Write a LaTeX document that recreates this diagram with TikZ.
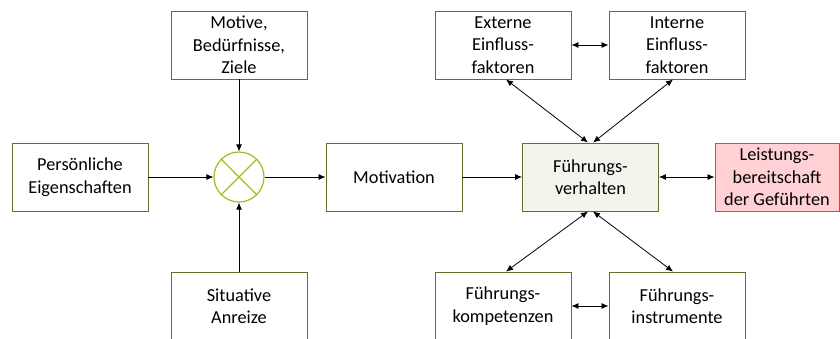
\documentclass[tikz,border=0pt]{standalone}
\usepackage{fontspec}
\setmainfont{Carlito}
\usetikzlibrary{arrows.meta}
\definecolor{boxline}{HTML}{6B6B2A}
\definecolor{circline}{HTML}{A8B820}
\definecolor{fvfill}{HTML}{F3F4EC}
\definecolor{redfill}{HTML}{FFD0D4}
\definecolor{redline}{HTML}{E0404F}
\begin{document}
\begin{tikzpicture}[x=1pt,y=-1pt,
  box/.style={draw=boxline,line width=0.9pt,fill=white,minimum width=136pt,minimum height=68pt,inner sep=0pt,align=center,font=\fontsize{18.3}{22.5}\selectfont},
  arr/.style={-{Latex[length=7pt,width=6pt]},line width=0.8pt},
  darr/.style={{Latex[length=7pt,width=6pt]}-{Latex[length=7pt,width=6pt]},line width=0.8pt}]
\useasboundingbox (0,0) rectangle (840,338);
\begin{scope}
\clip (0,0) rectangle (840,338);
\node[box] (mot) at (239,45) {Motive,\\Bedürfnisse,\\Ziele};
\node[box] (pers) at (80,177) {Persönliche\\Eigenschaften};
\node[box] (sit) at (239,306) {Situative\\Anreize};
\node[box] (motiv) at (394,177) {Motivation};
\node[box,fill=fvfill] (fv) at (590.5,177) {Führungs-\\verhalten};
\node[box,fill=redfill,draw=redline,minimum width=124pt] (leist) at (777,177) {Leistungs-\\bereitschaft\\der Geführten};
\node[box] (ext) at (503,45) {Externe\\Einfluss-\\faktoren};
\node[box] (int) at (677,45) {Interne\\Einfluss-\\faktoren};
\node[box] (komp) at (503,306) {Führungs-\\kompetenzen};
\node[box] (instr) at (677,306) {Führungs-\\instrumente};
\node[draw=circline,line width=1.2pt,circle,minimum size=50pt,inner sep=0pt] (c) at (239,177) {};
\draw[circline,line width=1.2pt] (c.45) -- (c.225) (c.135) -- (c.315);
\draw[arr] (mot) -- (c);
\draw[arr] (pers) -- (c);
\draw[arr] (sit) -- (c);
\draw[arr] (c) -- (motiv);
\draw[arr] (motiv) -- (fv);
\draw[darr] (fv) -- (leist);
\draw[darr] (ext) -- (int);
\draw[darr] (komp) -- (instr);
\coordinate (extb) at ([xshift=3pt]ext.south);
\coordinate (intb) at ([xshift=-4pt]int.south);
\coordinate (kompt) at ([xshift=3pt]komp.north);
\coordinate (instrt) at ([xshift=-4pt]instr.north);
\coordinate (fvt1) at ([xshift=-2.5pt]fv.north);
\coordinate (fvt2) at ([xshift=2.5pt]fv.north);
\coordinate (fvb1) at ([xshift=-2.5pt]fv.south);
\coordinate (fvb2) at ([xshift=2.5pt]fv.south);
\draw[darr] (extb) -- (fvt1);
\draw[darr] (intb) -- (fvt2);
\draw[darr] (kompt) -- (fvb1);
\draw[darr] (instrt) -- (fvb2);
\end{scope}
\end{tikzpicture}
\end{document}
